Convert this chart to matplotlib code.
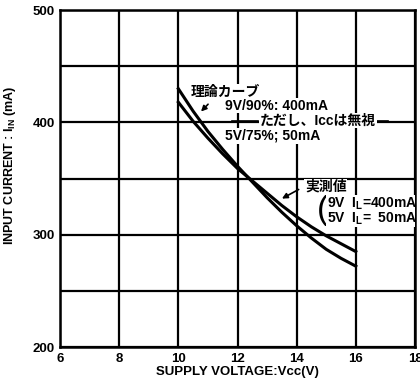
import matplotlib
matplotlib.use('Agg')
import matplotlib.pyplot as plt

# 実測値と理論カーブ (読み取り値)
vcc = [10, 10.5, 11, 11.5, 12, 12.5, 13, 13.5, 14, 14.5, 15, 15.5, 16]
riron = [430, 410, 392, 376, 361, 347, 333, 320, 308, 297, 287, 279, 272]
jissoku = [418, 401, 386, 372, 359, 348, 337, 326, 316, 307, 299, 292, 285]

x_ticks = [6, 8, 10, 12, 14, 16, 18]
y_ticks = [200, 300, 400, 500]

plt.rcParams['font.family'] = ['Liberation Sans', 'Noto Sans CJK JP']
plt.rcParams['font.weight'] = 'bold'
plt.rcParams['axes.labelweight'] = 'bold'

fig = plt.figure(figsize=(4.2, 3.91), dpi=100)
ax = fig.add_axes([0.143, 0.1125, 0.845, 0.8615])

ax.set_xlim(6, 18)
ax.set_ylim(200, 500)
ax.set_xticks(x_ticks)
ax.set_yticks(y_ticks)
ax.set_xticks(range(6, 19, 2), minor=True)
ax.set_yticks(range(200, 501, 50), minor=True)
ax.grid(True, which='both', color='black', linewidth=1.6)
ax.tick_params(which='both', length=0, labelsize=9.5, pad=4)
for lbl in ax.get_xticklabels() + ax.get_yticklabels():
    lbl.set_fontweight('bold')
for s in ax.spines.values():
    s.set_linewidth(1.8)

ax.plot(vcc, riron, color='black', linewidth=2.2)
ax.plot(vcc, jissoku, color='black', linewidth=2.2)

ax.set_xlabel('SUPPLY VOLTAGE:Vcc(V)', fontsize=9.5, labelpad=1)
ax.set_ylabel(r'INPUT CURRENT : I$_\mathregular{IN}$ (mA)', fontsize=9)
ax.yaxis.set_label_coords(-0.118, 0.54)

bg = dict(facecolor='white', edgecolor='none', pad=0.5)
fs = 10
ax.text(10.4, 427, '理論カーブ', fontsize=fs, va='center', bbox=bg)
ax.annotate('', xy=(10.7, 408), xytext=(11.07, 418),
            arrowprops=dict(arrowstyle='-|>', color='black', lw=1.2, mutation_scale=8))
ax.text(11.58, 415, '9V/90%: 400mA', fontsize=fs, va='center', bbox=bg)
ax.plot([11.8, 12.7], [401.5, 401.5], color='black', lw=1.2)
ax.text(12.75, 401.5, 'ただし、Iccは無視', fontsize=fs, va='center', bbox=bg)
ax.plot([16.4, 17.1], [401.5, 401.5], color='black', lw=1.2)
ax.text(11.58, 388, '5V/75%; 50mA', fontsize=fs, va='center', bbox=bg)

ax.text(14.28, 342.5, '実測値', fontsize=fs, va='center', bbox=bg)
ax.annotate('', xy=(13.42, 331), xytext=(14.15, 341.5),
            arrowprops=dict(arrowstyle='-|>', color='black', lw=1.2, mutation_scale=8))
ax.text(14.68, 321.5, '(', fontsize=24, va='center', fontweight='normal')
ax.text(15.02, 327.7, r'9V  I$_\mathregular{L}$=400mA', fontsize=fs, va='center', bbox=bg, clip_on=True)
ax.text(15.02, 314.4, r'5V  I$_\mathregular{L}$=  50mA', fontsize=fs, va='center', bbox=bg, clip_on=True)

fig.savefig('out.png', dpi=100, facecolor='white')
